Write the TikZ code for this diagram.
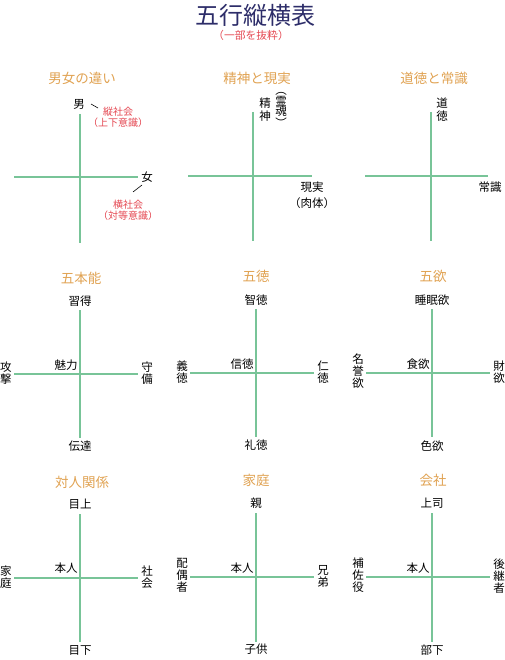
\documentclass[tikz,border=0pt]{standalone}
\usepackage{fontspec}
\setmainfont{Noto Sans CJK JP}
\definecolor{titlecol}{RGB}{45,45,105}
\definecolor{redcol}{RGB}{228,72,82}
\definecolor{ptcol}{RGB}{224,162,82}
\definecolor{axiscol}{RGB}{120,196,152}
\begin{document}
\begin{tikzpicture}[x=1pt,y=-1pt,
  axisline/.style={draw=axiscol, line width=1.8pt},
  lbl/.style={inner sep=0pt, text=black, font=\fontsize{11.5}{12}\selectfont, align=center},
  redlbl/.style={inner sep=0pt, text=redcol, font=\fontsize{10}{11}\selectfont, align=center},
  ptitle/.style={inner sep=0pt, text=ptcol, font=\fontsize{13.5}{14}\selectfont},
  leader/.style={draw=black, line width=0.6pt}
]
\useasboundingbox (0,0) rectangle (505,660);

% main title
\node[inner sep=0pt, text=titlecol, font=\fontsize{24}{24}\selectfont] (title) at (255,15) {五行縦横表};
\node[inner sep=0pt, text=redcol, font=\fontsize{10.8}{11}\selectfont] (subtitle) at (251,35) {（一部を抜粋）};

% ===== Panel 1: 男女の違い
\node[ptitle] (p1t) at (82,78) {男女の違い};
\coordinate (p1top) at (80,114); \coordinate (p1bot) at (80,243);
\coordinate (p1l) at (14,177); \coordinate (p1r) at (138,177);
\draw[axisline] (p1top) -- (p1bot);
\draw[axisline] (p1l) -- (p1r);
\node[lbl] (p1m) at (79,104) {男};
\node[lbl] (p1f) at (147,177) {女};
\node[redlbl] (p1v) at (118,117) {縦社会\\（上下意識）};
\node[redlbl] (p1h) at (128,210) {横社会\\（対等意識）};
\coordinate (p1la) at (91,104); \coordinate (p1lb) at (98,108);
\coordinate (p1lc) at (133,192); \coordinate (p1ld) at (142,185);
\draw[leader] (p1la) -- (p1lb);
\draw[leader] (p1lc) -- (p1ld);

% ===== Panel 2: 精神と現実
\node[ptitle] (p2t) at (257,78) {精神と現実};
\coordinate (p2top) at (253,112); \coordinate (p2bot) at (253,241);
\coordinate (p2l) at (188,176); \coordinate (p2r) at (312,176);
\draw[axisline] (p2top) -- (p2bot);
\draw[axisline] (p2l) -- (p2r);
\node[lbl, font=\fontsize{11.5}{13}\selectfont] (p2s) at (265,110) {精\\神};
\node[lbl, font=\fontsize{11.5}{10.5}\selectfont] (p2r2) at (281,110) {︵\\霊\\魂\\︶};
\node[lbl, font=\fontsize{11.5}{16}\selectfont] (p2g) at (312,195) {現実\\（肉体）};

% ===== Panel 3: 道徳と常識
\node[ptitle] (p3t) at (434,78) {道徳と常識};
\coordinate (p3top) at (431,112); \coordinate (p3bot) at (431,241);
\coordinate (p3l) at (365,176); \coordinate (p3r) at (488,176);
\draw[axisline] (p3top) -- (p3bot);
\draw[axisline] (p3l) -- (p3r);
\node[lbl, font=\fontsize{11.5}{13}\selectfont] (p3d) at (442,110) {道\\徳};
\node[lbl] (p3j) at (490,187) {常識};

% ===== Panel 4: 五本能
\node[ptitle] (p4t) at (81,278) {五本能};
\coordinate (p4top) at (80,310); \coordinate (p4bot) at (80,438);
\coordinate (p4l) at (14,374); \coordinate (p4r) at (138,374);
\draw[axisline] (p4top) -- (p4bot);
\draw[axisline] (p4l) -- (p4r);
\node[lbl] (p4u) at (80,301) {習得};
\node[lbl] (p4c) at (66,365) {魅力};
\node[lbl] (p4w) at (6,373) {攻\\撃};
\node[lbl] (p4e) at (147,373) {守\\備};
\node[lbl] (p4d) at (80,446) {伝達};

% ===== Panel 5: 五徳
\node[ptitle] (p5t) at (256,276) {五徳};
\coordinate (p5top) at (256,309); \coordinate (p5bot) at (256,437);
\coordinate (p5l) at (190,373); \coordinate (p5r) at (314,373);
\draw[axisline] (p5top) -- (p5bot);
\draw[axisline] (p5l) -- (p5r);
\node[lbl] (p5u) at (256,300) {智徳};
\node[lbl] (p5c) at (242,364) {信徳};
\node[lbl] (p5w) at (182,372) {義\\徳};
\node[lbl] (p5e) at (323,372) {仁\\徳};
\node[lbl] (p5d) at (256,445) {礼徳};

% ===== Panel 6: 五欲
\node[ptitle] (p6t) at (433,276) {五欲};
\coordinate (p6top) at (432,309); \coordinate (p6bot) at (432,437);
\coordinate (p6l) at (366,373); \coordinate (p6r) at (490,373);
\draw[axisline] (p6top) -- (p6bot);
\draw[axisline] (p6l) -- (p6r);
\node[lbl] (p6u) at (432,300) {睡眠欲};
\node[lbl] (p6c) at (418,364) {食欲};
\node[lbl] (p6w) at (358,371) {名\\誉\\欲};
\node[lbl] (p6e) at (499,372) {財\\欲};
\node[lbl] (p6d) at (432,446) {色欲};

% ===== Panel 7: 対人関係
\node[ptitle] (p7t) at (82,482) {対人関係};
\coordinate (p7top) at (80,514); \coordinate (p7bot) at (80,642);
\coordinate (p7l) at (14,578); \coordinate (p7r) at (138,578);
\draw[axisline] (p7top) -- (p7bot);
\draw[axisline] (p7l) -- (p7r);
\node[lbl] (p7u) at (80,504) {目上};
\node[lbl] (p7c) at (66,568) {本人};
\node[lbl] (p7w) at (6,577) {家\\庭};
\node[lbl] (p7e) at (147,577) {社\\会};
\node[lbl] (p7d) at (80,650) {目下};

% ===== Panel 8: 家庭
\node[ptitle] (p8t) at (256,480) {家庭};
\coordinate (p8top) at (256,513); \coordinate (p8bot) at (256,642);
\coordinate (p8l) at (190,577); \coordinate (p8r) at (314,577);
\draw[axisline] (p8top) -- (p8bot);
\draw[axisline] (p8l) -- (p8r);
\node[lbl] (p8u) at (256,503) {親};
\node[lbl] (p8c) at (242,568) {本人};
\node[lbl] (p8w) at (182,575) {配\\偶\\者};
\node[lbl] (p8e) at (323,576) {兄\\弟};
\node[lbl] (p8d) at (256,649) {子供};

% ===== Panel 9: 会社
\node[ptitle] (p9t) at (433,480) {会社};
\coordinate (p9top) at (432,513); \coordinate (p9bot) at (432,642);
\coordinate (p9l) at (366,577); \coordinate (p9r) at (490,577);
\draw[axisline] (p9top) -- (p9bot);
\draw[axisline] (p9l) -- (p9r);
\node[lbl] (p9u) at (432,503) {上司};
\node[lbl] (p9c) at (418,568) {本人};
\node[lbl] (p9w) at (358,575) {補\\佐\\役};
\node[lbl] (p9e) at (499,576) {後\\継\\者};
\node[lbl] (p9d) at (432,650) {部下};
\end{tikzpicture}
\end{document}
